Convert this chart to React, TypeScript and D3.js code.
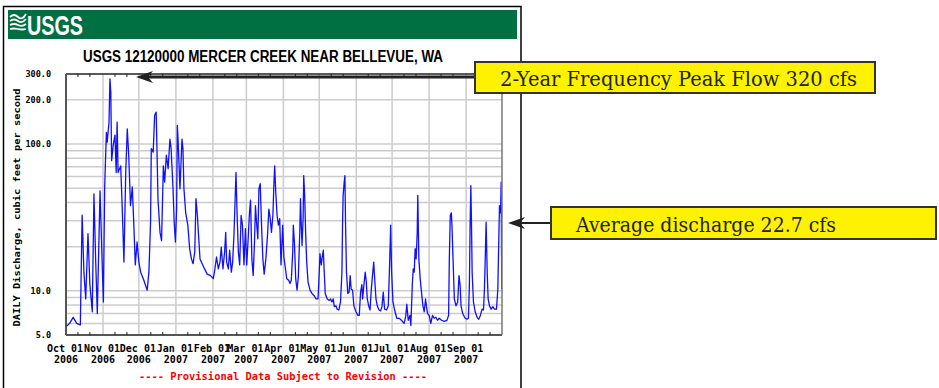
import React, { useEffect, useRef } from 'react';
import * as d3 from 'd3';

const dayOffset = [
  0, 3, 6, 9, 12, 13.5, 15, 16.5, 18.4, 20, 22, 23.4, 24.8, 26.2, 28.5, 30, 31.3, 32.4, 33.8, 34.5,
  36, 36.8, 37.5, 38.2, 39.5, 41, 42, 42.8, 43.6, 45.8, 47, 48.5, 50, 51.3, 52.5, 54, 55.5, 56.8, 58, 59.5,
  61, 62.5, 65, 68, 69.4, 70.8, 71.4, 73, 74.2, 75.5, 77, 78.7, 80, 81.5, 82.6, 84, 85.5, 87, 88, 89.6,
  90.6, 91.6, 92.6, 93.2, 93.8, 95.4, 97.1, 97.9, 98.7, 100.2, 102, 103.5, 105, 106.4, 107.8, 108.8, 110, 110.8, 112.2, 114,
  116, 118.2, 121, 123.3, 124.5, 126, 127.5, 128.9, 130, 131.4, 132.8, 133.7, 134.5, 135.9, 137, 138.4, 139.5, 140.6, 141.5, 142.3,
  143.2, 144.3, 145.4, 146.6, 147.7, 149, 150.2, 151.3, 152.5, 153.6, 154.5, 155.6, 156.7, 157.8, 158.6, 159.5, 160.6, 161.5, 162.6, 163.7,
  164.8, 165.9, 167.3, 168.7, 169.8, 171, 172, 173.2, 174, 174.7, 175.6, 176.7, 177.8, 178.9, 180, 181.4, 182.4, 183.3, 184.8, 186.4,
  187.5, 188.6, 189.8, 190.3, 191.2, 192.3, 193.4, 194.5, 195.7, 196.3, 196.8, 197.6, 198.5, 199, 199.8, 200.6, 201.5, 202.6, 204.3, 205.9,
  207.6, 209.3, 211, 212, 212.6, 213.7, 214.5, 215.4, 216.2, 217, 218.7, 220.4, 221.5, 222.6, 223.7, 224.6, 226, 227, 228.4, 229.8,
  231, 231.5, 232, 232.9, 233.5, 234, 234.8, 235.9, 237, 237.9, 238.7, 239.9, 241, 242.7, 244.4, 245.5, 246.6, 247.7, 248.3, 249.4,
  250.5, 251.4, 252.2, 253.4, 254.5, 255.6, 256.7, 257.6, 258.4, 259.5, 260.6, 262, 263.4, 264.5, 265.6, 266.7, 268.4, 269.8, 270.9, 271.8,
  272.6, 273.7, 275.1, 276.9, 278.9, 280.8, 283.1, 284.5, 285.3, 286.5, 287.9, 288.7, 289.9, 290.7, 291.5, 292.3, 293.1, 294, 294.5, 295.4,
  296.5, 297.6, 298.8, 299.9, 301, 301.8, 302.7, 304, 305.4, 306.8, 308.2, 309.6, 311, 312.4, 314.4, 316.6, 318.9, 320.3, 320.9, 321.7,
  322.6, 323.1, 324, 325.1, 326.5, 327.9, 329, 329.9, 330.7, 332.1, 334.1, 335.7, 336.9, 337.7, 338.3, 338.9, 339.4, 340, 341.1, 342.5,
  344.2, 345.5, 346.9, 348.3, 349.5, 350.3, 350.9, 351.7, 352.6, 353.4, 354.5, 355.9, 357.3, 358.7, 360.4, 361.5, 362.4, 362.9, 363.8, 364.3,
  364.8,
];

const cfs = [
  5.7, 6.0, 6.6, 6.0, 5.85, 32.8, 13.4, 8.8, 24.5, 11, 7.2, 45.7, 16.5, 7.0, 48, 18.4, 8.4, 52, 120, 103,
  141, 278, 225, 77, 98, 115, 64, 141, 64, 71, 38, 15.7, 64, 127, 84, 38, 51, 28, 15, 21.5,
  15.7, 13.4, 11.9, 10.1, 13.4, 29.4, 93, 88, 157, 165, 42.5, 25, 22, 71, 55, 84, 68, 108, 93, 49.6,
  29, 21.5, 36, 134, 108, 49.6, 108, 93, 50, 34, 28, 19.4, 16.5, 15.3, 18.4, 42.5, 32.6, 25, 16.5, 15.3,
  14.1, 13.0, 12.7, 12.1, 13.8, 17, 14.1, 15.7, 19.8, 14.1, 18.4, 25, 15.7, 14.1, 18.9, 13.4, 15.7, 23.9, 40, 64,
  34, 18.4, 15, 32.6, 28, 15, 26.5, 15, 22.6, 34, 41.5, 16.5, 12.7, 21.5, 38, 29.4, 22.6, 49.6, 53.6, 28,
  16.5, 13, 16.5, 24, 36, 31, 25, 32.6, 52, 71, 47, 32.6, 28, 31, 15, 28, 17, 15, 12.1, 11.8,
  11.2, 11.8, 18.4, 28, 21.5, 12.1, 10.1, 12.4, 25, 42.5, 31, 20.4, 31, 61, 44.7, 25, 15.7, 11.5, 10.1, 9.6,
  9.3, 8.8, 8.8, 13.4, 17.9, 15, 17, 18.9, 13.4, 9.6, 8.8, 8.6, 8.8, 8.4, 8.8, 7.8, 7.9, 7.5, 7.4, 8.4,
  13.4, 28, 44.7, 55, 61, 29.4, 13.4, 9.6, 9.8, 12.7, 10.3, 10.1, 7.9, 7.2, 6.8, 6.8, 9.8, 11, 8.8, 11,
  13.4, 11.5, 8.8, 7.9, 7.4, 10.3, 13, 15.7, 12.1, 8.8, 7.9, 7.4, 7.3, 7.8, 9.8, 7.5, 7.4, 7.9, 15, 28,
  13.4, 8.4, 7.4, 6.5, 6.5, 6.3, 6.0, 6.8, 8.1, 6.3, 6.8, 5.8, 11, 14.1, 13.4, 19.4, 16.5, 24.5, 44.7, 16.5,
  12.1, 9.8, 7.9, 7.2, 8.8, 7.8, 7.0, 6.8, 6.0, 6.8, 6.5, 6.6, 6.3, 6.5, 6.3, 6.2, 6.3, 6.8, 16.5, 32.6,
  34, 28, 16.5, 8.8, 7.9, 8.4, 12.7, 11, 7.9, 7.0, 6.5, 6.4, 6.5, 11, 28, 52, 31, 13.4, 8.4, 7.2,
  6.6, 6.4, 6.8, 7.5, 7.4, 10.3, 15.7, 29.4, 13.4, 8.8, 7.9, 7.5, 7.8, 7.5, 7.5, 10.3, 24, 38, 34, 55,
  10.3,
];

const yTicks = [5, 10, 100, 200, 300];
const yGridValues = [6, 7, 8, 9, 10, 20, 30, 40, 50, 60, 70, 80, 90, 100, 200];
const monthLabels = ['Oct 01', 'Nov 01', 'Dec 01', 'Jan 01', 'Feb 01', 'Mar 01', 'Apr 01', 'May 01', 'Jun 01', 'Jul 01', 'Aug 01', 'Sep 01'];
const yearLabels = ['2006', '2006', '2006', '2007', '2007', '2007', '2007', '2007', '2007', '2007', '2007', '2007'];

const App = () => {
  const svgRef = useRef(null);

  useEffect(() => {
    document.body.style.margin = '0';
    const plot = { left: 66, right: 502, top: 74, bottom: 335 };
    const mono = "'DejaVu Sans Mono', monospace";
    const serif = "'DejaVu Serif', serif";

    const svg = d3.select(svgRef.current);
    svg.selectAll('*').remove();

    const start = new Date(Date.UTC(2006, 9, 1));
    const end = new Date(Date.UTC(2007, 9, 1));
    const toDate = (d) => new Date(start.getTime() + d * 864e5);

    const x = d3.scaleUtc().domain([start, end]).range([plot.left, plot.right]);
    const y = d3.scaleLog().domain([5, 300]).range([plot.bottom, plot.top]);

    const months = d3.utcMonth.range(start, end);
    const data = dayOffset.map((d, i) => ({ date: toDate(d), v: cfs[i] }));

    // outer frame
    svg.append('rect')
      .attr('x', 3.5).attr('y', 6.5).attr('width', 517.5).attr('height', 400)
      .attr('fill', '#fff').attr('stroke', '#000').attr('stroke-width', 1.5);

    // USGS banner
    svg.append('rect')
      .attr('x', 8).attr('y', 10).attr('width', 509).attr('height', 29)
      .attr('fill', '#006f41');
    const logo = svg.append('g').attr('fill', 'none').attr('stroke', '#fff').attr('stroke-width', 1.8);
    [17, 21, 25, 29].forEach((yy, i) => {
      logo.append('path')
        .attr('d', `M10,${yy} q4,${-4 + i} 8,0 t8,${-3 + i}`);
    });
    svg.append('text')
      .attr('x', 27).attr('y', 35)
      .attr('fill', '#fff')
      .attr('font-family', "'Liberation Sans Narrow', 'Liberation Sans', Arial, sans-serif")
      .attr('font-weight', 'bold').attr('font-size', 28)
      .attr('textLength', 56).attr('lengthAdjust', 'spacingAndGlyphs')
      .text('USGS');

    // title
    svg.append('text')
      .attr('x', 263).attr('y', 62)
      .attr('text-anchor', 'middle')
      .attr('font-family', "'Liberation Sans', Arial, sans-serif")
      .attr('font-weight', 'bold').attr('font-size', 16)
      .attr('textLength', 360).attr('lengthAdjust', 'spacingAndGlyphs')
      .text('USGS 12120000 MERCER CREEK NEAR BELLEVUE, WA');

    // gridlines
    const grid = svg.append('g').attr('stroke', '#cccccc').attr('stroke-width', 1.5);
    grid.selectAll('.hgrid')
      .data(yGridValues)
      .enter()
      .append('line')
      .attr('x1', plot.left).attr('x2', plot.right)
      .attr('y1', d => y(d)).attr('y2', d => y(d));
    grid.selectAll('.vgrid')
      .data(months.slice(1))
      .enter()
      .append('line')
      .attr('x1', d => x(d)).attr('x2', d => x(d))
      .attr('y1', plot.top).attr('y2', plot.bottom);

    // discharge line
    svg.append('clipPath').attr('id', 'plot-clip')
      .append('rect')
      .attr('x', plot.left).attr('y', plot.top)
      .attr('width', plot.right - plot.left).attr('height', plot.bottom - plot.top);

    const line = d3.line()
      .x(d => x(d.date))
      .y(d => y(d.v));

    svg.append('path')
      .datum(data)
      .attr('clip-path', 'url(#plot-clip)')
      .attr('fill', 'none')
      .attr('stroke', '#1010ff')
      .attr('stroke-width', 1.3)
      .attr('stroke-linejoin', 'round')
      .attr('d', line);

    // plot border
    svg.append('line').attr('x1', plot.left).attr('x2', plot.right).attr('y1', plot.top).attr('y2', plot.top)
      .attr('stroke', '#222').attr('stroke-width', 1.5);
    svg.append('line').attr('x1', plot.left).attr('x2', plot.right).attr('y1', plot.bottom).attr('y2', plot.bottom)
      .attr('stroke', '#555').attr('stroke-width', 2);
    svg.append('line').attr('x1', plot.left).attr('x2', plot.left).attr('y1', plot.top).attr('y2', plot.bottom)
      .attr('stroke', '#555').attr('stroke-width', 2);
    svg.append('line').attr('x1', plot.right).attr('x2', plot.right).attr('y1', plot.top).attr('y2', plot.bottom)
      .attr('stroke', '#777').attr('stroke-width', 1.5);

    // minor ticks on the 11th and 21st
    const minorDays = months.flatMap(m => [d3.utcDay.offset(m, 10), d3.utcDay.offset(m, 20)]);
    const ticks = svg.append('g').attr('stroke', '#222').attr('stroke-width', 1);
    minorDays.forEach(d => {
      ticks.append('line').attr('x1', x(d)).attr('x2', x(d)).attr('y1', plot.bottom).attr('y2', plot.bottom - 3);
      ticks.append('line').attr('x1', x(d)).attr('x2', x(d)).attr('y1', plot.top).attr('y2', plot.top + 3);
    });

    // y axis labels
    svg.selectAll('.ylab')
      .data(yTicks)
      .enter()
      .append('text')
      .attr('x', 51)
      .attr('y', d => y(d))
      .attr('dy', '0.35em')
      .attr('text-anchor', 'end')
      .attr('font-family', mono).attr('font-weight', 'bold').attr('font-size', 8.5)
      .text(d => d.toFixed(1));

    // x axis labels
    svg.selectAll('.mlab')
      .data(months)
      .enter()
      .append('text')
      .attr('x', d => x(d) - 1)
      .attr('y', 352)
      .attr('text-anchor', 'middle')
      .attr('font-family', mono).attr('font-weight', 'bold').attr('font-size', 10)
      .text((d, i) => monthLabels[i]);
    svg.selectAll('.yrlab')
      .data(months)
      .enter()
      .append('text')
      .attr('x', d => x(d))
      .attr('y', 363)
      .attr('text-anchor', 'middle')
      .attr('font-family', mono).attr('font-weight', 'bold').attr('font-size', 10)
      .text((d, i) => yearLabels[i]);

    // y axis title
    svg.append('text')
      .attr('transform', `translate(17,${(plot.top + plot.bottom) / 2 + 3}) rotate(-90)`)
      .attr('text-anchor', 'middle')
      .attr('dy', '0.35em')
      .attr('font-family', mono).attr('font-weight', 'bold').attr('font-size', 9)
      .attr('textLength', 238).attr('lengthAdjust', 'spacingAndGlyphs')
      .text('DAILY Discharge, cubic feet per second');

    // provisional note
    svg.append('text')
      .attr('x', 283).attr('y', 380)
      .attr('text-anchor', 'middle')
      .attr('fill', '#ff0000')
      .attr('font-family', mono).attr('font-weight', 'bold').attr('font-size', 10)
      .attr('textLength', 288).attr('lengthAdjust', 'spacingAndGlyphs')
      .text('---- Provisional Data Subject to Revision ----');

    // callouts
    const callouts = [
      { text: '2-Year Frequency Peak Flow 320 cfs', box: [475, 62, 400, 31], textX: 500, textW: 357, base: 86, tip: [136, 77], lw: 3 },
      { text: 'Average discharge 22.7 cfs', box: [551, 207, 385, 32], textX: 576, textW: 260, base: 232, tip: [508, 223], lw: 2 },
    ];
    callouts.forEach(c => {
      const [bx, by, bw, bh] = c.box;
      const [tx, ty] = c.tip;
      svg.append('line')
        .attr('x1', tx + 12).attr('x2', bx).attr('y1', ty).attr('y2', ty)
        .attr('stroke', '#222').attr('stroke-width', c.lw);
      svg.append('path')
        .attr('d', `M${tx},${ty} L${tx + 17},${ty - 6} L${tx + 12},${ty} L${tx + 17},${ty + 6} Z`)
        .attr('fill', '#222');
      svg.append('rect')
        .attr('x', bx).attr('y', by).attr('width', bw).attr('height', bh)
        .attr('fill', '#fff200').attr('stroke', '#333').attr('stroke-width', 2);
      svg.append('text')
        .attr('x', c.textX).attr('y', c.base)
        .attr('fill', '#222')
        .attr('font-family', serif).attr('font-size', 20)
        .attr('textLength', c.textW).attr('lengthAdjust', 'spacingAndGlyphs')
        .text(c.text);
    });
  }, []);

  return <svg ref={svgRef} width={939} height={388} style={{ display: 'block' }}></svg>;
};

export default App;
